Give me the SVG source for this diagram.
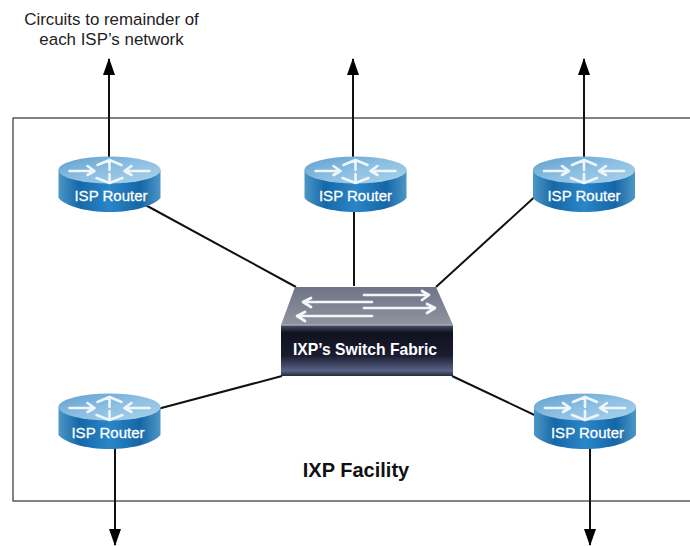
<svg xmlns="http://www.w3.org/2000/svg" width="690" height="546" viewBox="0 0 690 546">
<style>
text{font-family:"Liberation Sans",Arial,sans-serif}
.rl{font-size:15px;fill:#fff;text-anchor:middle;font-weight:400;stroke:#fff;stroke-width:.3}
.ln{stroke:#111;stroke-width:2;fill:none}
.up{stroke:#111;stroke-width:2;fill:none;marker-end:url(#ah)}
.wa{stroke:#f4f6fa;stroke-width:2.7;fill:none;stroke-linecap:round;stroke-linejoin:round}
.ra{stroke:#eef6fb;stroke-width:2.6;fill:none;stroke-linecap:round;stroke-linejoin:round}
</style>
<defs>
<marker id="ah" markerUnits="userSpaceOnUse" markerWidth="17" markerHeight="12" refX="16" refY="6" orient="auto"><path d="M0 0L17 6L0 12Z" fill="#000"/></marker>
<linearGradient id="rs" x1="0" x2="1" y1="0" y2="0"><stop offset="0" stop-color="#4c97c6"/><stop offset=".2" stop-color="#1668a8"/><stop offset=".5" stop-color="#2a86c8"/><stop offset=".8" stop-color="#1566a6"/><stop offset="1" stop-color="#4c97c6"/></linearGradient>
<linearGradient id="rt" x1="0" x2="1" y1="0" y2="1"><stop offset="0" stop-color="#5f9fcf"/><stop offset=".5" stop-color="#8dbfe2"/><stop offset="1" stop-color="#a8d2ea"/></linearGradient>
<linearGradient id="sw" x1="0" x2="0" y1="0" y2="1"><stop offset="0" stop-color="#4b5068"/><stop offset=".15" stop-color="#10121f"/><stop offset=".6" stop-color="#1a1c30"/><stop offset=".9" stop-color="#5a6285"/><stop offset="1" stop-color="#23263a"/></linearGradient>
<linearGradient id="st" x1="0" x2="0" y1="0" y2="1"><stop offset="0" stop-color="#6f7488"/><stop offset="1" stop-color="#90949f"/></linearGradient>
<g id="router">
<path d="M-51 -2V26C-44 34 -24 40 0 40S44 34 51 26V-2Z" fill="url(#rs)"/>
<ellipse cx="0" cy="-2" rx="51" ry="13.5" fill="url(#rt)"/>
<path class="ra" d="M-40 -1H-15M-22 -6L-15 -1L-22 3M40 -1H15M22 -6L15 -1L22 3M0 -2V-12M-12 -7L0 -12L12 -7M0 2V10M-13 6L0 11L13 6"/>
</g>
</defs>
<rect id="facility" x="13" y="118" width="690" height="383" fill="#fff" stroke="#333" stroke-width="1.2"/>
<g id="connectors">
<path class="up" d="M109 160V59"/>
<path class="up" d="M353 160V59"/>
<path class="up" d="M584 160V59"/>
<path class="up" d="M115 445V545"/>
<path class="up" d="M590 445V545"/>
<path class="ln" d="M140 202L296 287M354 205V286M540 192L436 287M150 411L282 376M545 420L452 376"/>
</g>
<g id="r1" transform="translate(109.500,172)"><use href="#router"/><text class="rl" x="1.500" y="28.500">ISP Router</text></g>
<g id="r2" transform="translate(355.500,172)"><use href="#router"/><text class="rl" y="28.500">ISP Router</text></g>
<g id="r3" transform="translate(584,172)"><use href="#router"/><text class="rl" y="28.500">ISP Router</text></g>
<g id="r4" transform="translate(109.500,409)"><use href="#router"/><text class="rl" x="-1.500" y="28.500">ISP Router</text></g>
<g id="r5" transform="translate(585,409)"><use href="#router"/><text class="rl" x="2.500" y="28.500">ISP Router</text></g>
<g id="switch">
<path d="M295 287H436L453 325H281Z" fill="url(#st)"/>
<rect x="281" y="325" width="172" height="51" fill="url(#sw)"/>
<path d="M281 325H453" stroke="#a5a9b5" stroke-width="1.500"/>
<path class="wa" d="M364 295H428M422 291L429 295L422 300M372 302H304M311 298L303 302L311 307M364 308H434M427 304L435 308L427 313M372 316H298M305 312L297 316L305 321"/>
<text x="365" y="355" font-size="15.700" font-weight="700" fill="#fff" text-anchor="middle">IXP’s Switch Fabric</text>
</g>
<g id="labels">
<text x="111.500" y="25" font-size="16.900" fill="#222" text-anchor="middle">Circuits to remainder of</text>
<text x="111.500" y="45" font-size="16.900" fill="#222" text-anchor="middle">each ISP’s network</text>
<text x="356" y="477" font-size="20" font-weight="700" fill="#111" text-anchor="middle">IXP Facility</text>
</g>
</svg>
